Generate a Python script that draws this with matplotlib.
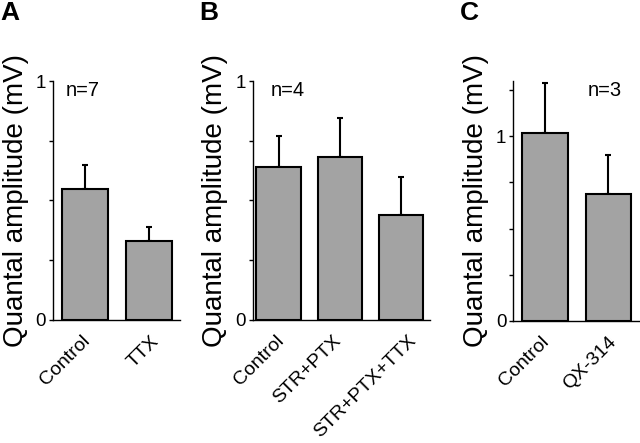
import numpy as np
import matplotlib
matplotlib.use("Agg")
import matplotlib.pyplot as plt
from matplotlib.ticker import MultipleLocator
from matplotlib.transforms import ScaledTranslation

plt.rcParams['font.family'] = ['Liberation Sans', 'DejaVu Sans']

# panel A
a_labels = ["Control", "TTX"]
a_means = [0.55, 0.33]
a_errs = [0.10, 0.06]

# panel B
b_labels = ["Control", "STR+PTX", "STR+PTX+TTX"]
b_means = [0.64, 0.68, 0.44]
b_errs = [0.13, 0.165, 0.16]

# panel C
c_labels = ["Control", "QX-314"]
c_means = [1.02, 0.69]
c_errs = [0.27, 0.21]

panels = [
    ("A", a_labels, a_means, a_errs, "n=7", 1.0, (-0.5, 1.5)),
    ("B", b_labels, b_means, b_errs, "n=4", 1.0, (-0.42, 2.47)),
    ("C", c_labels, c_means, c_errs, "n=3", 1.30, (-0.5, 1.5)),
]

# axes rectangles in figure fractions (left, bottom, width, height)
rects = [
    (0.083, 0.278, 0.199, 0.539),
    (0.395, 0.278, 0.277, 0.539),
    (0.802, 0.276, 0.198, 0.541),
]
n_pos = [0.095, 0.10, 0.59]
# small horizontal nudges (px) of the slanted tick labels
label_dx = [[-3.5, 1.5], [-3.5, -7.5, 6.5], [-4.5, -0.5]]

fig = plt.figure(figsize=(6.4, 4.43), dpi=100)

for (letter, labels, means, errs, ntxt, ytop, xl), rect, nx, dxs in zip(panels, rects, n_pos, label_dx):
    ax = fig.add_axes(rect)
    x = np.arange(len(labels))
    ax.bar(x, means, width=0.72, color="#a3a3a3", edgecolor="black", linewidth=1.5, zorder=2)
    ax.errorbar(x, means, yerr=[np.zeros(len(errs)), errs], fmt="none", ecolor="black",
                elinewidth=1.5, capsize=2.5, capthick=1.5, zorder=1)
    ax.set_xlim(*xl)
    ax.set_ylim(0, ytop)
    ax.spines['top'].set_visible(False)
    ax.spines['right'].set_visible(False)
    ax.spines['left'].set_linewidth(1.0)
    ax.spines['bottom'].set_linewidth(1.0)
    ax.set_yticks([0, 1])
    ax.set_yticklabels(["0", "1"])
    ax.yaxis.set_minor_locator(MultipleLocator(0.25))
    ax.tick_params(axis='y', which='major', length=3, width=1, labelsize=13.5, pad=2)
    ax.tick_params(axis='y', which='minor', length=3, width=1)
    ax.set_xticks(x)
    ax.set_xticklabels(labels, rotation=45, ha='right', rotation_mode='anchor', fontsize=14)
    ax.tick_params(axis='x', length=0, pad=9)
    for lab, dx in zip(ax.get_xticklabels(), dxs):
        lab.set_transform(lab.get_transform() + ScaledTranslation(dx / 100, 0, fig.dpi_scale_trans))
    ax.set_ylabel("Quantal amplitude (mV)", fontsize=20, labelpad=5)
    ax.text(nx, 0.96, ntxt, transform=ax.transAxes, fontsize=14.5, ha='left', va='center')
    fig.text(rect[0] - 0.083, 0.997, letter, fontsize=19, fontweight='bold', ha='left', va='top')

fig.savefig("out.png", dpi=100)
